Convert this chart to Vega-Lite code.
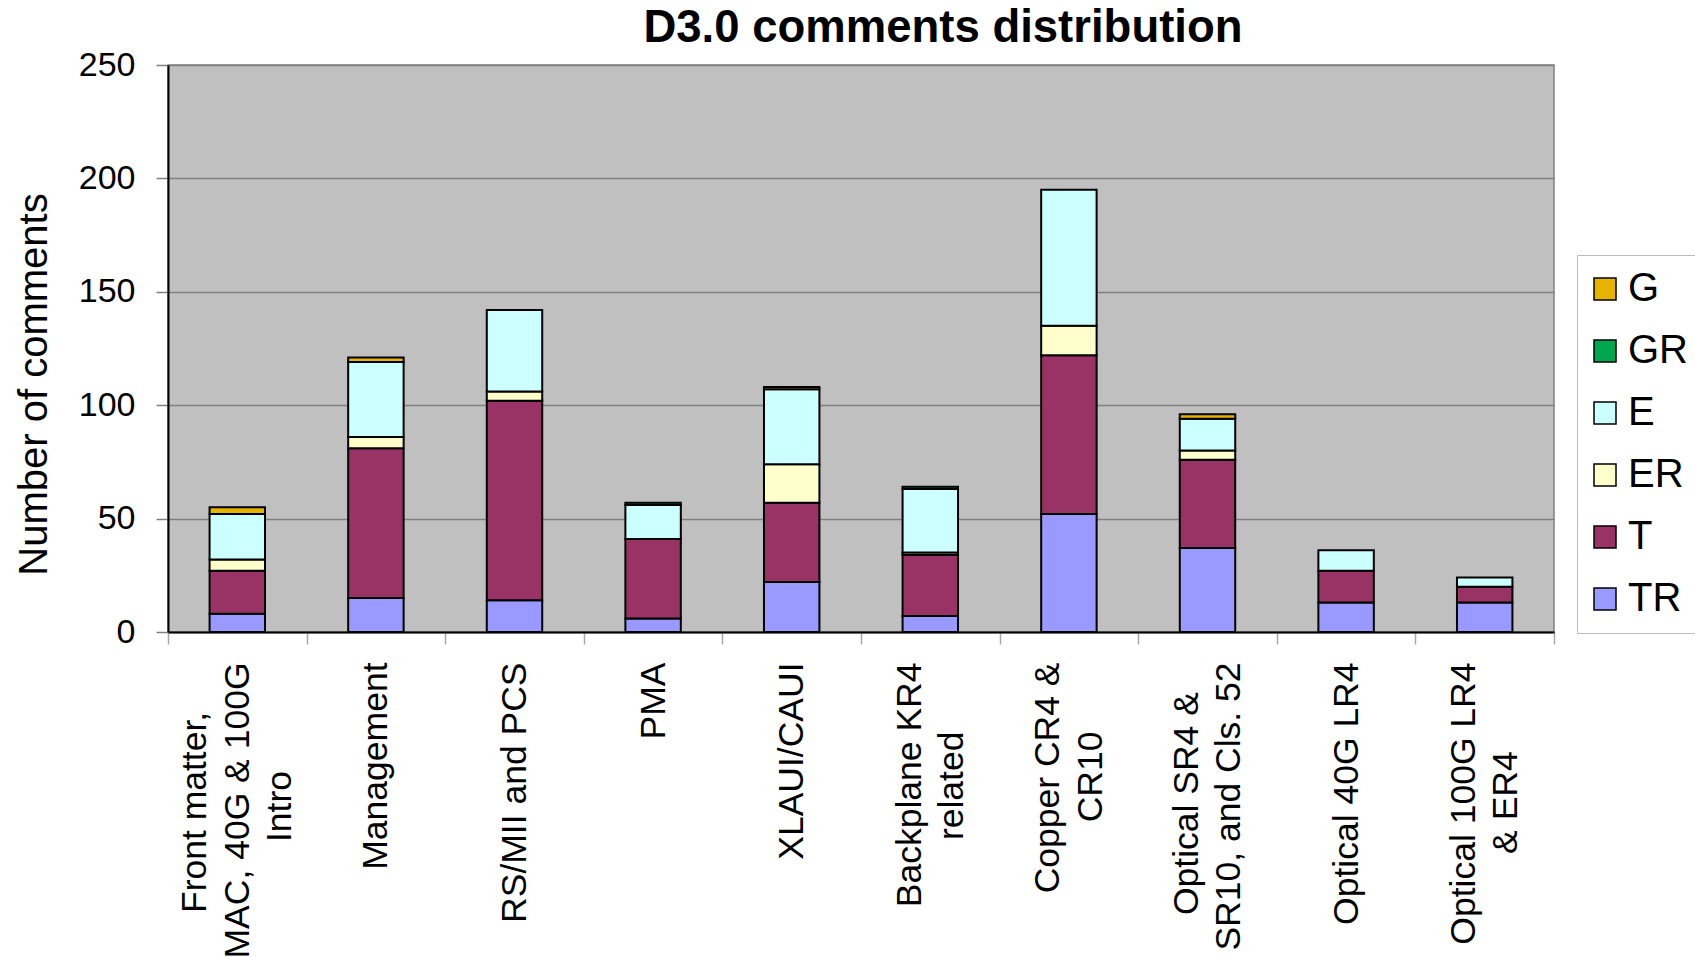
{
  "$schema": "https://vega.github.io/schema/vega-lite/v6.json",
  "width": 1386,
  "height": 567,
  "autosize": {"type": "none"},
  "padding": {"left": 168, "top": 65, "right": 141, "bottom": 325},
  "background": "white",
  "title": {
    "text": "D3.0 comments distribution",
    "font": "Liberation Sans",
    "fontSize": 45.5,
    "fontWeight": "bold",
    "color": "black",
    "anchor": "middle",
    "frame": "group",
    "dx": 82,
    "offset": -3
  },
  "config": {
    "font": "Liberation Sans",
    "view": {"fill": "#C0C0C0", "stroke": "#808080", "strokeWidth": 1.5}
  },
  "data": {
    "values": [
      {"section": "Front matter,|MAC, 40G & 100G|Intro", "type": "TR", "count": 8},
      {"section": "Front matter,|MAC, 40G & 100G|Intro", "type": "T", "count": 19},
      {"section": "Front matter,|MAC, 40G & 100G|Intro", "type": "ER", "count": 5},
      {"section": "Front matter,|MAC, 40G & 100G|Intro", "type": "E", "count": 20},
      {"section": "Front matter,|MAC, 40G & 100G|Intro", "type": "G", "count": 3},
      {"section": "Management", "type": "TR", "count": 15},
      {"section": "Management", "type": "T", "count": 66},
      {"section": "Management", "type": "ER", "count": 5},
      {"section": "Management", "type": "E", "count": 33},
      {"section": "Management", "type": "G", "count": 2},
      {"section": "RS/MII and PCS", "type": "TR", "count": 14},
      {"section": "RS/MII and PCS", "type": "T", "count": 88},
      {"section": "RS/MII and PCS", "type": "ER", "count": 4},
      {"section": "RS/MII and PCS", "type": "E", "count": 36},
      {"section": "PMA", "type": "TR", "count": 6},
      {"section": "PMA", "type": "T", "count": 35},
      {"section": "PMA", "type": "GR", "count": 1},
      {"section": "PMA", "type": "E", "count": 15},
      {"section": "XLAUI/CAUI", "type": "TR", "count": 22},
      {"section": "XLAUI/CAUI", "type": "T", "count": 35},
      {"section": "XLAUI/CAUI", "type": "ER", "count": 17},
      {"section": "XLAUI/CAUI", "type": "E", "count": 33},
      {"section": "XLAUI/CAUI", "type": "G", "count": 1},
      {"section": "Backplane KR4|related", "type": "TR", "count": 7},
      {"section": "Backplane KR4|related", "type": "T", "count": 27},
      {"section": "Backplane KR4|related", "type": "ER", "count": 1},
      {"section": "Backplane KR4|related", "type": "GR", "count": 1},
      {"section": "Backplane KR4|related", "type": "E", "count": 28},
      {"section": "Copper CR4 &|CR10", "type": "TR", "count": 52},
      {"section": "Copper CR4 &|CR10", "type": "T", "count": 70},
      {"section": "Copper CR4 &|CR10", "type": "ER", "count": 13},
      {"section": "Copper CR4 &|CR10", "type": "E", "count": 60},
      {"section": "Optical SR4 &|SR10, and Cls. 52", "type": "TR", "count": 37},
      {"section": "Optical SR4 &|SR10, and Cls. 52", "type": "T", "count": 39},
      {"section": "Optical SR4 &|SR10, and Cls. 52", "type": "ER", "count": 4},
      {"section": "Optical SR4 &|SR10, and Cls. 52", "type": "E", "count": 14},
      {"section": "Optical SR4 &|SR10, and Cls. 52", "type": "G", "count": 2},
      {"section": "Optical 40G LR4", "type": "TR", "count": 13},
      {"section": "Optical 40G LR4", "type": "T", "count": 14},
      {"section": "Optical 40G LR4", "type": "E", "count": 9},
      {"section": "Optical 100G LR4|& ER4", "type": "TR", "count": 13},
      {"section": "Optical 100G LR4|& ER4", "type": "T", "count": 7},
      {"section": "Optical 100G LR4|& ER4", "type": "E", "count": 4}
    ]
  },
  "transform": [
    {"calculate": "indexof(['TR', 'T', 'ER', 'E', 'GR', 'G'], datum.type)", "as": "stack_rank"}
  ],
  "mark": {"type": "bar", "stroke": "black", "strokeWidth": 2, "width": {"band": 0.4}},
  "encoding": {
    "x": {
      "field": "section",
      "type": "nominal",
      "sort": null,
      "scale": {"paddingInner": 0, "paddingOuter": 0},
      "axis": {
        "title": null,
        "grid": false,
        "labelAngle": -90,
        "labelAlign": "right",
        "labelBaseline": "middle",
        "labelExpr": "datum.label === 'Front matter,|MAC, 40G & 100G|Intro' ? ['Front matter,\u00a0\u00a0\u00a0\u00a0\u00a0\u200b', '\u00a0\u200b', 'MAC, 40G & 100G', '\u00a0\u200b', 'Intro\u00a0\u00a0\u00a0\u00a0\u00a0\u00a0\u00a0\u00a0\u00a0\u00a0\u00a0\u200b'] : datum.label === 'Backplane KR4|related' ? ['\u00a0\u200b', 'Backplane KR4', '\u00a0\u200b', 'related\u00a0\u00a0\u00a0\u00a0\u00a0\u00a0\u00a0\u200b'] : datum.label === 'Copper CR4 &|CR10' ? ['\u00a0\u200b', 'Copper CR4 &', '\u00a0\u200b', 'CR10\u00a0\u00a0\u00a0\u00a0\u00a0\u00a0\u00a0\u200b'] : datum.label === 'Optical SR4 &|SR10, and Cls. 52' ? ['\u00a0\u200b', 'Optical SR4 &\u00a0\u00a0\u00a0\u200b', '\u00a0\u200b', 'SR10, and Cls. 52'] : datum.label === 'Optical 100G LR4|& ER4' ? ['\u00a0\u200b', 'Optical 100G LR4', '\u00a0\u200b', '& ER4\u00a0\u00a0\u00a0\u00a0\u00a0\u00a0\u00a0\u00a0\u00a0\u200b'] : ['\u00a0\u200b', '\u00a0\u200b', datum.label]",
        "labelFontSize": 35.5,
        "labelLineHeight": 21.2,
        "labelOffset": -42.4,
        "labelColor": "black",
        "labelLimit": 500,
        "labelPadding": 18,
        "tickBand": "extent",
        "tickSize": 12,
        "tickColor": "#A8A8A8",
        "tickWidth": 1.5,
        "domainColor": "black",
        "domainWidth": 2
      }
    },
    "y": {
      "field": "count",
      "type": "quantitative",
      "stack": "zero",
      "scale": {"domain": [0, 250], "nice": false},
      "axis": {
        "title": "Number of comments",
        "titleFontSize": 40,
        "titleFontWeight": "normal",
        "titleColor": "black",
        "titleAngle": -90,
        "titleAlign": "center",
        "titleBaseline": "middle",
        "titleX": -134,
        "titleY": 319,
        "values": [0, 50, 100, 150, 200, 250],
        "labelFontSize": 34,
        "labelColor": "black",
        "labelPadding": 21,
        "tickSize": 12,
        "tickColor": "#808080",
        "tickWidth": 1.5,
        "domainColor": "black",
        "domainWidth": 2,
        "grid": true,
        "gridColor": "#808080",
        "gridWidth": 1.5
      }
    },
    "order": {"field": "stack_rank", "type": "quantitative", "sort": "ascending"},
    "color": {
      "field": "type",
      "type": "nominal",
      "sort": ["G", "GR", "E", "ER", "T", "TR"],
      "scale": {
        "domain": ["G", "GR", "E", "ER", "T", "TR"],
        "range": ["#E6B400", "#00A650", "#CCFFFF", "#FFFFCC", "#993366", "#9999FF"]
      },
      "legend": {
        "title": null,
        "orient": "none",
        "legendX": 1409,
        "legendY": 190,
        "fillColor": "white",
        "strokeColor": "#BBBBBB",
        "padding": 14,
        "symbolType": "square",
        "symbolSize": 484,
        "symbolOffset": -6,
        "symbolStrokeColor": "black",
        "symbolStrokeWidth": 1.5,
        "labelFontSize": 40,
        "labelColor": "black",
        "labelOffset": 3,
        "rowPadding": 22
      }
    }
  }
}
